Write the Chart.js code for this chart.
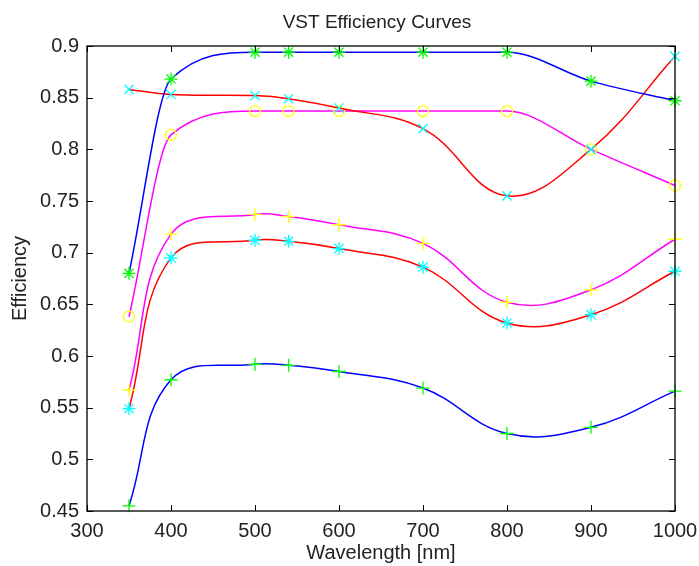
<!DOCTYPE html>
<html>
<head>
<meta charset="utf-8">
<script src="https://cdn.jsdelivr.net/npm/chart.js@4/dist/chart.umd.min.js"></script>
<style>
  body { margin: 0; background: #fff; }
  #wrap { width: 699px; height: 566px; }
</style>
</head>
<body>
<div id="wrap"><canvas id="effChart"></canvas></div>
<script>
// wavelengths where the efficiencies were measured
var wavelengths = [350, 400, 500, 540, 600, 700, 800, 900, 1000];

var blueTop    = [0.680, 0.868, 0.894, 0.894, 0.894, 0.894, 0.894, 0.866, 0.847];
var redTop     = [0.858, 0.853, 0.852, 0.849, 0.840, 0.820, 0.755, 0.800, 0.890];
var magentaTop = [0.638, 0.814, 0.837, 0.837, 0.837, 0.837, 0.837, 0.800, 0.765];
var magentaLow = [0.567, 0.718, 0.737, 0.735, 0.727, 0.709, 0.652, 0.664, 0.713];
var redLow     = [0.549, 0.695, 0.712, 0.711, 0.704, 0.686, 0.632, 0.640, 0.682];
var blueLow    = [0.455, 0.577, 0.592, 0.591, 0.585, 0.569, 0.525, 0.531, 0.566];

var xTicks = [300, 400, 500, 600, 700, 800, 900, 1000];
var yTicks = [0.45, 0.5, 0.55, 0.6, 0.65, 0.7, 0.75, 0.8, 0.85, 0.9];

var titleText = 'VST Efficiency Curves';
var FONT = "'Liberation Sans', Arial, sans-serif";

function pts(vals) {
  return vals.map(function(v, i) { return {x: wavelengths[i], y: v}; });
}

function series(vals, line, marker, style, mono) {
  return {
    data: pts(vals),
    borderColor: line,
    borderWidth: 1.5,
    pointStyle: style,
    pointRadius: style === 'circle' ? 5.5 : 6.5,
    pointBorderColor: marker,
    pointBackgroundColor: 'rgba(0,0,0,0)',
    pointBorderWidth: 1.3,
    fill: false,
    clip: false,
    tension: 0.4,
    cubicInterpolationMode: mono ? 'monotone' : 'default'
  };
}

// MATLAB style box with inward ticks on all four sides, title over the axes
var boxTicks = {
  id: 'boxTicks',
  afterDraw: function(chart) {
    var ctx = chart.ctx, a = chart.chartArea;
    var xs = chart.scales.x, ys = chart.scales.y;
    ctx.save();
    ctx.strokeStyle = '#000';
    ctx.lineWidth = 1.3;
    ctx.strokeRect(a.left, a.top, a.right - a.left, a.bottom - a.top);
    ctx.lineWidth = 1;
    ctx.beginPath();
    xTicks.forEach(function(t) {
      var px = Math.round(xs.getPixelForValue(t)) + 0.5;
      ctx.moveTo(px, a.bottom); ctx.lineTo(px, a.bottom - 6);
      ctx.moveTo(px, a.top); ctx.lineTo(px, a.top + 6);
    });
    yTicks.forEach(function(t) {
      var py = Math.round(ys.getPixelForValue(t)) + 0.5;
      ctx.moveTo(a.left, py); ctx.lineTo(a.left + 6, py);
      ctx.moveTo(a.right, py); ctx.lineTo(a.right - 6, py);
    });
    ctx.stroke();
    ctx.fillStyle = '#222';
    ctx.font = '19px ' + FONT;
    ctx.textAlign = 'center';
    ctx.textBaseline = 'alphabetic';
    ctx.fillText(titleText, (a.left + a.right) / 2 - 4, 28);
    ctx.restore();
  }
};

var ctx = document.getElementById('effChart').getContext('2d');
var effChart = new Chart(ctx, {
  type: 'line',
  data: {
    datasets: [
      series(blueTop, '#0000ff', '#00ff00', 'star', true),
      series(redTop, '#ff0000', '#00ffff', 'crossRot', false),
      series(magentaTop, '#ff00ff', '#ffff00', 'circle', true),
      series(magentaLow, '#ff00ff', '#ffff00', 'cross', false),
      series(redLow, '#ff0000', '#00ffff', 'star', false),
      series(blueLow, '#0000ff', '#00ff00', 'cross', false)
    ]
  },
  options: {
    responsive: true,
    maintainAspectRatio: false,
    animation: false,
    layout: { padding: { left: 0, right: 0, top: 46, bottom: 0 } },
    plugins: {
      legend: { display: false },
      tooltip: { enabled: false },
      title: { display: false }
    },
    scales: {
      x: {
        type: 'linear',
        min: 300,
        max: 1000,
        afterBuildTicks: function(s) { s.ticks = xTicks.map(function(v) { return {value: v}; }); },
        afterFit: function(s) { s.height = 55; s.paddingRight = 24; s.paddingLeft = 0; },
        grid: { display: false, drawTicks: false },
        border: { display: false },
        ticks: {
          color: '#222',
          padding: 8,
          maxRotation: 0,
          font: { family: FONT, size: 20 },
          callback: function(v) { return String(v); }
        },
        title: {
          display: true,
          text: 'Wavelength [nm]',
          color: '#222',
          font: { family: FONT, size: 20 },
          padding: { top: 0, bottom: 1 }
        }
      },
      y: {
        type: 'linear',
        min: 0.45,
        max: 0.9,
        afterBuildTicks: function(s) { s.ticks = yTicks.map(function(v) { return {value: v}; }); },
        afterFit: function(s) { s.width = 87; },
        grid: { display: false, drawTicks: false },
        border: { display: false },
        ticks: {
          color: '#222',
          padding: 8,
          font: { family: FONT, size: 20 },
          callback: function(v) { return String(Math.round(v * 100) / 100); }
        },
        title: {
          display: true,
          text: 'Efficiency',
          color: '#222',
          font: { family: FONT, size: 20 },
          padding: { top: 8, bottom: 0 }
        }
      }
    }
  },
  plugins: [boxTicks]
});
</script>
</body>
</html>
